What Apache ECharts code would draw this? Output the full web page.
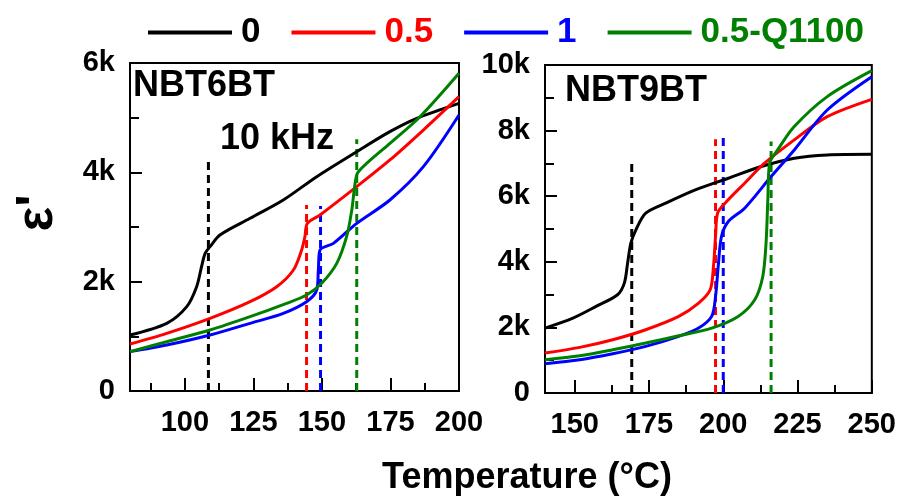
<!DOCTYPE html>
<html>
<head>
<meta charset="utf-8">
<script src="https://cdn.jsdelivr.net/npm/echarts@6/dist/echarts.min.js"></script>
<style>html,body{margin:0;padding:0;background:#fff}#c{width:899px;height:498px}</style>
</head>
<body>
<div id="c"></div>
<script>
// ---------- data ----------
const seriesNames = ['0', '0.5', '1', '0.5-Q1100'];
const seriesColors = ['#000000', '#ff0000', '#0000ff', '#008000'];

// NBT6BT panel (10 kHz)
const nbt6_T_0 = [80, 93.4, 100.7, 104.3, 106.1, 107.4, 109.2, 112.8, 123.8, 135.9, 148.1, 162.7, 174.8, 184.6, 200];
const nbt6_E_0 = [1024, 1238, 1543, 1908, 2274, 2518, 2640, 2854, 3159, 3494, 3921, 4378, 4744, 4988, 5262];
const nbt6_T_05 = [80, 93.4, 109.2, 123.8, 133.5, 139.6, 142.6, 143.8, 144.7, 149.3, 162.7, 174.8, 187.0, 200];
const nbt6_E_05 = [860, 1055, 1329, 1634, 1908, 2213, 2579, 2823, 3067, 3220, 3738, 4226, 4774, 5384];
const nbt6_T_1 = [80, 93.4, 109.2, 123.8, 135.9, 144.4, 148.1, 148.7, 149.3, 154.2, 162.7, 174.8, 187.0, 200];
const nbt6_E_1 = [720, 841, 1024, 1238, 1421, 1634, 1848, 2213, 2579, 2701, 3067, 3494, 4104, 5049];
const nbt6_T_Q = [80, 93.4, 109.2, 123.8, 137.1, 144.4, 149.9, 155.4, 159.0, 160.9, 162.1, 163.3, 174.8, 185.8, 200];
const nbt6_E_Q = [720, 902, 1116, 1360, 1604, 1756, 1970, 2335, 2823, 3311, 3799, 4012, 4530, 5018, 5811];
const nbt6_markT = [108.6, 144.4, 149.5, 162.7];
const nbt6_markTop = [4274, 3402, 3384, 4604];

// NBT9BT panel
const nbt9_T_0 = [140, 149.4, 157.2, 164.4, 166.7, 167.8, 168.9, 170.6, 173.9, 180.6, 190.6, 201.7, 212.8, 223.9, 235, 250];
const nbt9_E_0 = [1980, 2284, 2640, 2995, 3350, 3959, 4569, 4975, 5482, 5787, 6193, 6548, 6904, 7157, 7259, 7279];
const nbt9_T_05 = [140, 151.7, 162.8, 173.9, 185, 191.7, 195.6, 196.7, 197.4, 198.1, 200.6, 207.2, 213.9, 223.9, 235, 250];
const nbt9_E_05 = [1218, 1391, 1624, 1929, 2335, 2741, 3147, 3858, 4772, 5482, 5787, 6396, 7005, 7716, 8426, 8954];
const nbt9_T_1 = [140, 151.7, 162.8, 173.9, 185, 191.7, 196.1, 197.4, 198.3, 199.4, 201.7, 207.2, 216.1, 223.9, 235, 250];
const nbt9_E_1 = [893, 1015, 1198, 1421, 1726, 1980, 2335, 2944, 3858, 4772, 5228, 5635, 6599, 7411, 8629, 9645];
const nbt9_T_Q = [140, 151.7, 162.8, 173.9, 185, 196.1, 205, 210.6, 213.3, 214.4, 215, 215.6, 218.3, 223.9, 235, 250];
const nbt9_E_Q = [1015, 1137, 1320, 1523, 1746, 1980, 2335, 2843, 3553, 4569, 5888, 7005, 7411, 8122, 9036, 9827];
const nbt9_markT = [169.2, 197.4, 200, 216.1];
const nbt9_markTop = [7127, 7736, 7797, 7665];

// ticks
const leftXMajor = [100, 125, 150, 175, 200];
const leftXMinor = [87.5, 112.5, 137.5, 162.5, 187.5];
const rightXMajor = [150, 175, 200, 225, 250];
const rightXMinor = [162.5, 187.5, 212.5, 237.5];
const leftYRange = [0, 6000];
const rightYRange = [0, 10000];
const yStep = 2000;

// ---------- build ----------
const FONT = "'Liberation Sans', Arial, sans-serif";
const zip = (a, b) => a.map((v, i) => [v, b[i]]);
const kFmt = v => v === 0 ? '0' : (v / 1000) + 'k';

const panels = [
  { T: [nbt6_T_0, nbt6_T_05, nbt6_T_1, nbt6_T_Q], E: [nbt6_E_0, nbt6_E_05, nbt6_E_1, nbt6_E_Q], mT: nbt6_markT, mTop: nbt6_markTop },
  { T: [nbt9_T_0, nbt9_T_05, nbt9_T_1, nbt9_T_Q], E: [nbt9_E_0, nbt9_E_05, nbt9_E_1, nbt9_E_Q], mT: nbt9_markT, mTop: nbt9_markTop }
];

const series = [];
panels.forEach((p, pi) => {
  for (let k = 0; k < 4; k++) {
    series.push({
      name: seriesNames[k], type: 'line', xAxisIndex: pi * 2, yAxisIndex: pi,
      data: zip(p.T[k], p.E[k]), showSymbol: false, symbol: 'none',
      smooth: 0.3,
      lineStyle: { color: seriesColors[k], width: 3 }, itemStyle: { color: seriesColors[k] },
      z: 3
    });
  }
  for (let k = 0; k < 4; k++) {
    series.push({
      name: seriesNames[k], type: 'line', xAxisIndex: pi * 2, yAxisIndex: pi,
      data: [[p.mT[k], 0], [p.mT[k], p.mTop[k]]], showSymbol: false, symbol: 'none',
      lineStyle: { color: seriesColors[k], width: 3, type: [8, 5] }, itemStyle: { color: seriesColors[k] },
      z: 2
    });
  }
});

const majorX = (grid, min, max, vals) => ({
  gridIndex: grid, type: 'value', min: min, max: max, position: 'bottom',
  axisLine: { show: true, onZero: false, lineStyle: { color: '#000', width: 2 } },
  axisTick: { show: true, inside: true, length: 13, customValues: vals, lineStyle: { color: '#000', width: 2 } },
  axisLabel: { show: true, customValues: vals, margin: 17, color: '#000', fontFamily: FONT, fontWeight: 'bold', fontSize: 29 },
  splitLine: { show: false }
});
const minorX = (grid, min, max, vals) => ({
  gridIndex: grid, type: 'value', min: min, max: max, position: 'bottom',
  axisLine: { show: false, onZero: false },
  axisTick: { show: true, inside: true, length: 8, customValues: vals, lineStyle: { color: '#000', width: 2 } },
  axisLabel: { show: false },
  splitLine: { show: false }
});
const yAx = (grid, range) => ({
  gridIndex: grid, type: 'value', min: range[0], max: range[1], interval: yStep,
  axisLine: { show: true, lineStyle: { color: '#000', width: 2 } },
  axisTick: { show: true, inside: true, length: 12, lineStyle: { color: '#000', width: 2 } },
  minorTick: { show: true, splitNumber: 2, length: 9, lineStyle: { color: '#000', width: 2 } },
  axisLabel: { formatter: kFmt, margin: 15, color: '#000', fontFamily: FONT, fontWeight: 'bold', fontSize: 29 },
  splitLine: { show: false }, minorSplitLine: { show: false }
});

const option = {
  backgroundColor: '#fff',
  animation: false,
  legend: {
    data: seriesNames.map((n, i) => ({ name: n, textStyle: { color: seriesColors[i] } })),
    left: 143, top: 10, icon: 'rect', itemWidth: 84, itemHeight: 4, itemGap: 31,
    textStyle: { fontFamily: FONT, fontWeight: 'bold', fontSize: 35, padding: [0, 0, 0, 4] },
    selectedMode: false
  },
  grid: [
    { left: 130, top: 63, width: 329, height: 328, show: true, borderColor: '#000', borderWidth: 2, backgroundColor: 'transparent' },
    { left: 545, top: 65, width: 330, height: 328, show: true, borderColor: '#000', borderWidth: 2, backgroundColor: 'transparent' }
  ],
  xAxis: [
    majorX(0, 80, 200, leftXMajor), minorX(0, 80, 200, leftXMinor),
    majorX(1, 140, 250, rightXMajor), minorX(1, 140, 250, rightXMinor)
  ],
  yAxis: [yAx(0, leftYRange), yAx(1, rightYRange)],
  graphic: [
    { type: 'text', x: 133, y: 86, style: { text: 'NBT6BT', font: "bold 36px 'Liberation Sans', Arial", fill: '#000', verticalAlign: 'middle' } },
    { type: 'text', x: 220, y: 139, style: { text: '10 kHz', font: "bold 36px 'Liberation Sans', Arial", fill: '#000', verticalAlign: 'middle' } },
    { type: 'text', x: 565, y: 91, style: { text: 'NBT9BT', font: "bold 36px 'Liberation Sans', Arial", fill: '#000', verticalAlign: 'middle' } },
    { type: 'text', x: 527, y: 478, style: { text: 'Temperature (°C)', font: "bold 36px 'Liberation Sans', Arial", fill: '#000', align: 'center', verticalAlign: 'middle' } },
    { type: 'text', x: 38, y: 213, rotation: Math.PI / 2, style: { text: "ε'", font: "bold 52px 'Liberation Sans', Arial", fill: '#000', align: 'center', verticalAlign: 'middle' } }
  ],
  series: series
};

const chart = echarts.init(document.getElementById('c'), null, { renderer: 'canvas' });
chart.setOption(option);
</script>
</body>
</html>
